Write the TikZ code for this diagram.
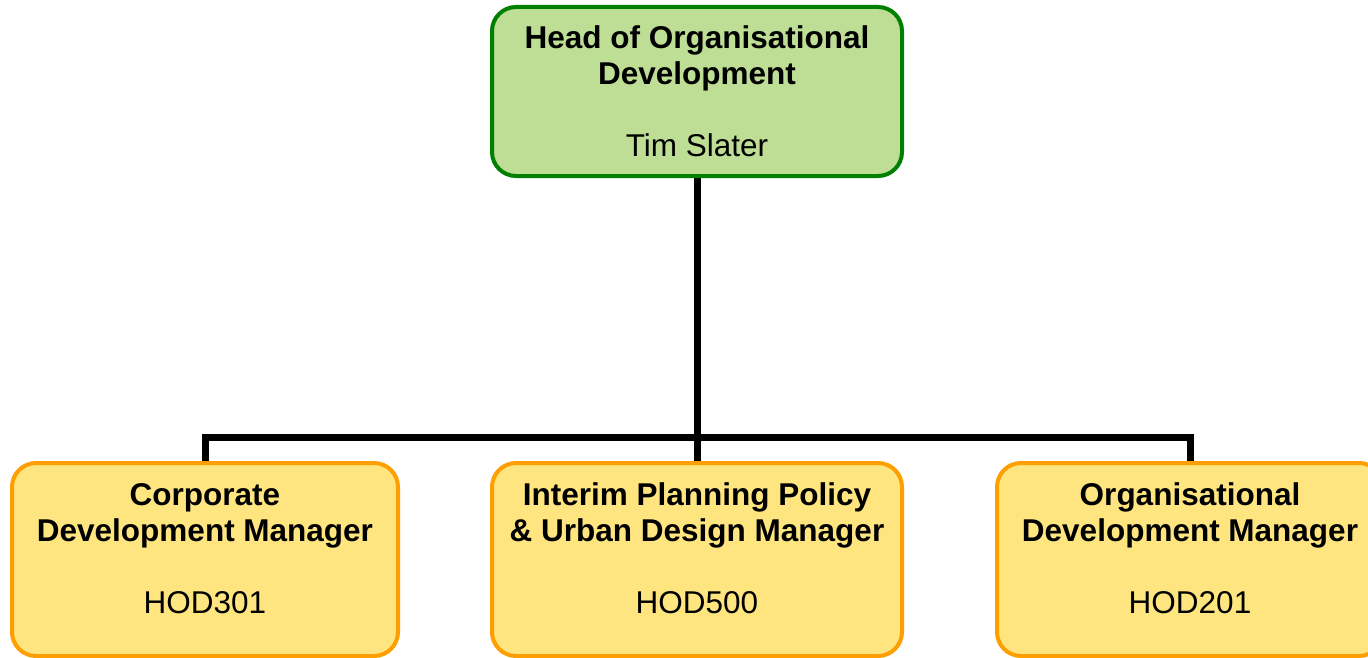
\documentclass[tikz,border=0pt]{standalone}
\usepackage{fontspec}
\setmainfont{Liberation Sans}
\usetikzlibrary{backgrounds}
\definecolor{headborder}{RGB}{0,128,0}
\definecolor{headfill}{RGB}{189,222,148}
\definecolor{mgrborder}{RGB}{255,158,0}
\definecolor{mgrfill}{RGB}{254,229,127}
\newcommand{\liftup}{\\[-13pt]\mbox{}}
\begin{document}
\begin{tikzpicture}[x=1pt,y=-1pt,
  boxbase/.style={rounded corners=24pt, line width=4pt, align=center, inner sep=0pt,
    font=\fontsize{31.5}{36}\selectfont},
  headbox/.style={boxbase, draw=headborder, fill=headfill, minimum width=410pt, minimum height=169pt},
  mgrbox/.style={boxbase, draw=mgrborder, fill=mgrfill, minimum height=193pt},
  conn/.style={line width=7pt, black}]
\useasboundingbox (0,0) rectangle (1368,658);
\node[headbox] (head) at (697,91.5)
  {\textbf{Head of Organisational}\\\textbf{Development}\\[36pt]Tim Slater};
\node[mgrbox, minimum width=386pt] (m1) at (205,559.5)
  {\textbf{Corporate}\\\textbf{Development Manager}\\[36pt]HOD301\liftup};
\node[mgrbox, minimum width=410pt] (m2) at (697,559.5)
  {\textbf{Interim Planning Policy}\\\textbf{\& Urban Design Manager}\\[36pt]HOD500\liftup};
\node[mgrbox, minimum width=386pt] (m3) at (1190,559.5)
  {\textbf{Organisational}\\\textbf{Development Manager}\\[36pt]HOD201\liftup};
\coordinate (bus) at (697,437);
\begin{scope}[on background layer]
\draw[conn] (head.south) -- (bus);
\draw[conn] (m1.north) -- (m1.north |- bus) -- (m3.north |- bus) -- (m3.north);
\draw[conn] (bus) -- (m2.north);
\end{scope}
\end{tikzpicture}
\end{document}
